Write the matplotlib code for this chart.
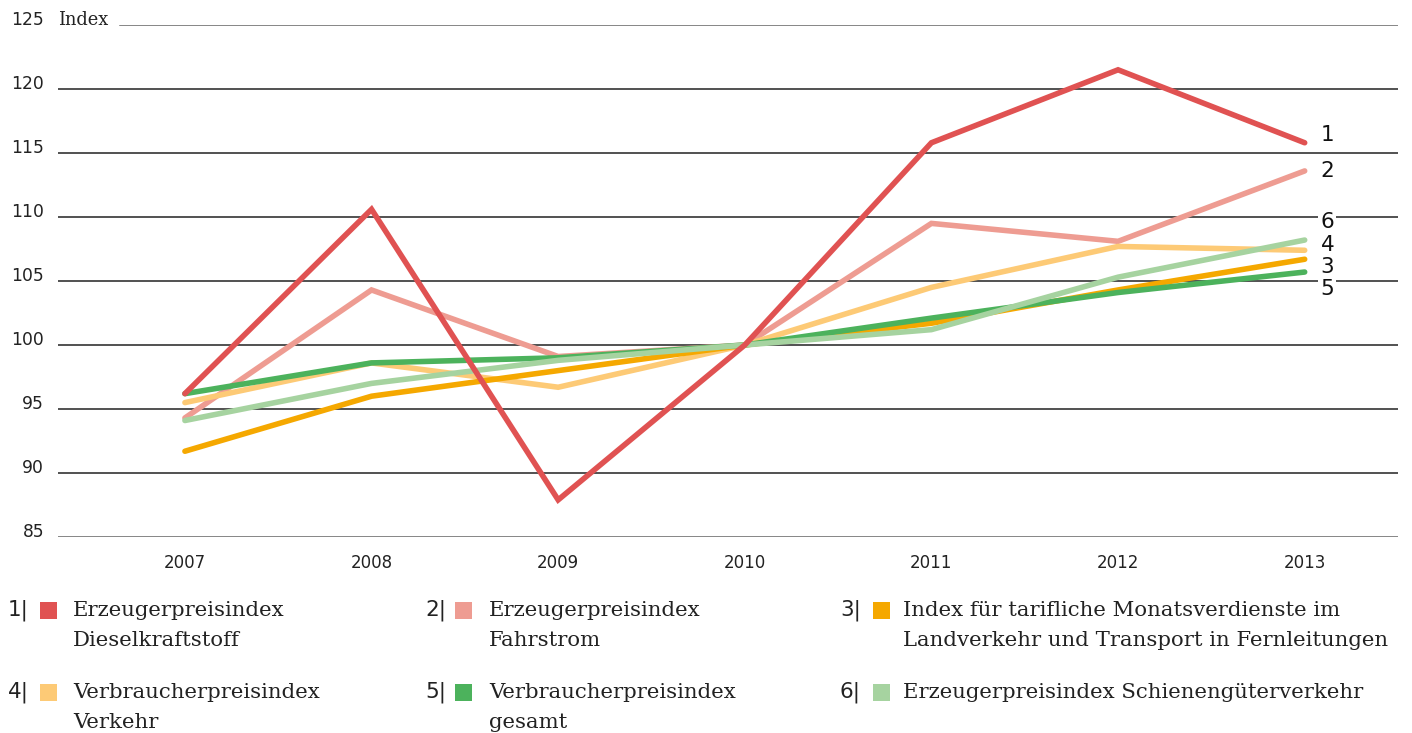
import matplotlib
matplotlib.use("Agg")
import matplotlib.pyplot as plt
from matplotlib.patches import Rectangle

# data
years = [2007, 2008, 2009, 2010, 2011, 2012, 2013]
diesel = [96.2, 110.6, 87.9, 100.0, 115.8, 121.5, 115.8]
fahrstrom = [94.3, 104.3, 99.1, 100.0, 109.5, 108.1, 113.6]
verdienste = [91.7, 96.0, 98.0, 100.0, 101.7, 104.3, 106.7]
vpi_verkehr = [95.5, 98.6, 96.7, 100.0, 104.5, 107.7, 107.4]
vpi_gesamt = [96.2, 98.6, 99.0, 100.0, 102.1, 104.1, 105.7]
schiene = [94.1, 97.0, 98.8, 100.0, 101.2, 105.3, 108.2]

yticks = [85, 90, 95, 100, 105, 110, 115, 120, 125]

names = ["Erzeugerpreisindex\nDieselkraftstoff",
         "Erzeugerpreisindex\nFahrstrom",
         "Index für tarifliche Monatsverdienste im\nLandverkehr und Transport in Fernleitungen",
         "Verbraucherpreisindex\nVerkehr",
         "Verbraucherpreisindex\ngesamt",
         "Erzeugerpreisindex Schienengüterverkehr"]
colors = ["#e05252", "#ee9c92", "#f5a800", "#fdca76", "#4cb25c", "#a6d3a0"]
series = [diesel, fahrstrom, verdienste, vpi_verkehr, vpi_gesamt, schiene]
zorders = [8, 3, 5, 4, 6, 7]

W, H = 1412, 733
fig = plt.figure(figsize=(W / 100, H / 100), dpi=100)
ax = fig.add_axes([58 / W, 1 - 537 / H, 1340 / W, 512 / H])
ax.set_xlim(2006.32, 2013.5)
ax.set_ylim(85, 125)
for s in ax.spines.values():
    s.set_visible(False)
ax.set_xticks([])
ax.set_yticks([])

for v in yticks:
    xmin = 0.046 if v == 125 else 0
    c = "#666666" if v in (85, 125) else "#222222"
    ax.axhline(v, xmin=xmin, xmax=1, color=c, lw=1.1, zorder=1)
    ax.text(-14 / 1340, v, str(v), transform=ax.get_yaxis_transform(),
            ha="right", va="baseline", fontsize=12.3, color="#222222")
ax.text(0, 125, "Index", transform=ax.get_yaxis_transform(), ha="left",
        va="baseline", fontsize=12.8, family="DejaVu Serif", color="#222222")

for yr in years:
    ax.text(yr, 85 - 26 / 12.8, str(yr), ha="center", va="center",
            fontsize=12, color="#222222")

for vals, col, z in zip(series, colors, zorders):
    ax.plot(years, vals, color=col, lw=4, solid_capstyle="round",
            solid_joinstyle="miter", zorder=z)

# end labels (layout positions)
end_nums = ["1", "2", "3", "4", "5", "6"]
end_y = [116.4, 113.6, 106.1, 107.8, 104.4, 109.6]
for n, yy in zip(end_nums, end_y):
    ax.text(2013.085, yy, n, ha="left", va="center", fontsize=15.5,
            color="#111111", zorder=10,
            bbox=dict(facecolor="white", edgecolor="none", pad=1.5))

# legend
cols_x = [(8, 40, 73), (425, 455, 489), (840, 873, 903)]
rows_y = [610, 692]
for i, (name, col) in enumerate(zip(names, colors)):
    r, c = divmod(i, 3)
    nx, sx, tx = cols_x[c]
    y0 = rows_y[r]
    fig.text(nx / W, 1 - y0 / H, f"{i + 1}|", ha="left", va="center",
             fontsize=15.5, color="#222222")
    fig.add_artist(Rectangle((sx / W, 1 - (y0 + 9) / H), 17 / W, 17 / H,
                             transform=fig.transFigure, color=col, lw=0))
    fig.text(tx / W, 1 - (y0 - 8.5) / H, name, ha="left", va="top",
             fontsize=15.3, family="DejaVu Serif", color="#222222",
             linespacing=1.72)

fig.savefig("out.png", dpi=100, facecolor="white")
